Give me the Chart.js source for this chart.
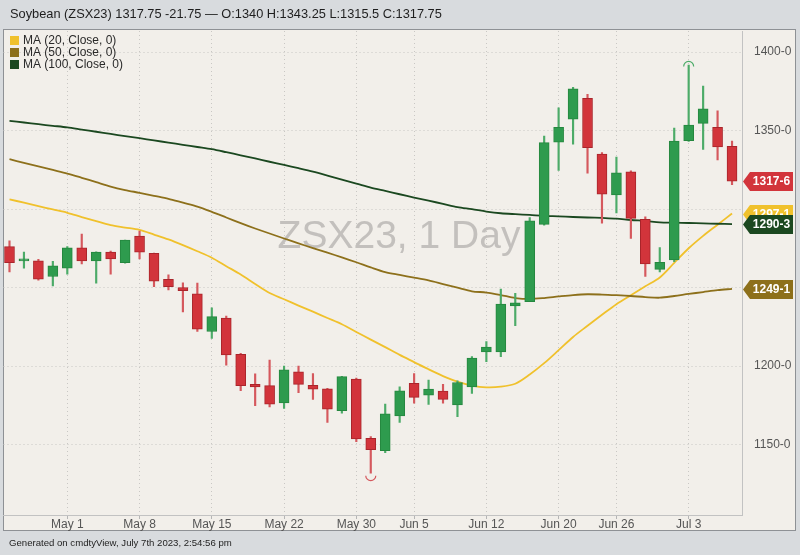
<!DOCTYPE html>
<html><head><meta charset="utf-8">
<script src="https://cdn.jsdelivr.net/npm/chart.js@4.4.0/dist/chart.umd.min.js"></script>
<style>
html,body{margin:0;padding:0;background:#d8dbde;}
canvas{display:block;}
</style></head><body>
<canvas id="c" width="800" height="555"></canvas>
<script>
const instrument = 'Soybean (ZSX23)';
const watermark = 'ZSX23, 1 Day';
const footerText = 'Generated on cmdtyView, July 7th 2023, 2:54:56 pm';
const dates = ['Apr 25','Apr 26','Apr 27','Apr 28','May 1','May 2','May 3','May 4','May 5','May 8','May 9','May 10','May 11','May 12','May 15','May 16','May 17','May 18','May 19','May 22','May 23','May 24','May 25','May 26','May 30','May 31','Jun 1','Jun 2','Jun 5','Jun 6','Jun 7','Jun 8','Jun 9','Jun 12','Jun 13','Jun 14','Jun 15','Jun 16','Jun 20','Jun 21','Jun 22','Jun 23','Jun 26','Jun 27','Jun 28','Jun 29','Jun 30','Jul 3','Jul 5','Jul 6','Jul 7'];
const tickLabels = ['May 1','May 8','May 15','May 22','May 30','Jun 5','Jun 12','Jun 20','Jun 26','Jul 3'];
const open  = [1276,1267,1267,1257,1262.25,1275.25,1267,1272.5,1265.75,1282.75,1271.75,1255.25,1250,1246,1222,1230.5,1207.5,1188.25,1187.5,1176.5,1196.25,1187.75,1185.5,1171.5,1191.75,1154,1146,1168.25,1189,1181.5,1184,1175.25,1186.75,1209,1209,1238.25,1241,1290.25,1342.5,1357.25,1370.5,1335,1309,1323.75,1293.5,1261.5,1267.5,1343.5,1354.5,1352,1340];
const high  = [1279.75,1272.5,1268,1266.75,1276,1284,1272.75,1273.25,1280.25,1286,1272,1258,1253,1252.75,1237,1231.75,1208,1195,1203.75,1200,1200,1195.25,1185.75,1193.5,1192.25,1155,1175.75,1186.75,1195.25,1191,1188.25,1190.5,1206,1215.5,1249,1246.25,1294.5,1346.5,1364.5,1377.5,1373,1336,1333,1324.25,1295,1275.5,1351.5,1391.75,1378.25,1362.5,1343.25];
const low   = [1260,1262.25,1254.75,1251,1258.5,1265,1252.75,1258.5,1265.5,1268.25,1250.5,1248.5,1234.5,1222,1217.5,1200.5,1184.25,1174.75,1174,1173,1183,1178.75,1164,1170,1151.75,1131.75,1144.75,1164,1176.25,1175.5,1176.25,1167.75,1182.5,1202.75,1206,1225.75,1241,1289.75,1324.5,1341.25,1322.75,1291,1297.5,1281.25,1257,1260,1266.5,1343,1338,1331.25,1315.5];
const close = [1265.75,1268.25,1255.25,1263.75,1275.25,1267,1272.5,1268.25,1280.25,1272.5,1254,1250.5,1248,1223.5,1231.5,1207,1187.5,1186.75,1175.75,1197.5,1188.25,1185.25,1172.5,1193.25,1153.5,1146.75,1169.5,1184.25,1180,1185.25,1178.75,1189.5,1205,1212,1239.5,1240.25,1292.5,1342.25,1352,1376.5,1339,1309.5,1323,1294,1265,1266,1343.25,1353.5,1363.75,1339.5,1317.75];
const ma20  = [1306.2,1304.0,1301.8,1299.7,1297.6,1294.9,1292.3,1289.7,1288.2,1286.7,1283.7,1280.6,1277.0,1273.1,1269.0,1263.6,1258.3,1252.3,1246.5,1242.5,1238.5,1234.6,1230.6,1226.6,1221.7,1216.8,1212.0,1207.1,1202.5,1197.9,1193.6,1190.0,1187.5,1186.4,1186.8,1188.7,1194.6,1201.8,1210.1,1218.5,1225.6,1232.6,1239.4,1245.1,1250.8,1256.4,1265.7,1275.0,1282.9,1290.0,1297.125];
const ma50  = [1331.7,1329.4,1327.2,1324.9,1322.6,1319.9,1317.1,1314.3,1312.1,1310.3,1308.4,1306.5,1304.0,1301.5,1298.2,1294.6,1291.0,1287.6,1284.4,1281.2,1278.1,1275.1,1272.2,1269.2,1266.1,1262.8,1259.8,1258.0,1256.3,1254.5,1252.2,1249.9,1247.6,1246.8,1245.2,1243.3,1242.7,1243.3,1244.3,1245.2,1245.7,1245.5,1245.1,1244.6,1243.9,1243.5,1244.6,1245.9,1247.1,1248.3,1249.125];
const ma100 = [1356.1,1355.1,1354.0,1353.0,1352.0,1350.6,1349.2,1347.8,1346.4,1345.1,1343.7,1342.3,1340.9,1339.5,1338.1,1336.2,1334.2,1332.2,1330.1,1328.1,1326.0,1323.8,1321.3,1318.7,1316.2,1313.6,1311.5,1309.4,1307.3,1305.3,1303.3,1301.2,1299.9,1298.4,1297.3,1296.7,1296.2,1295.6,1295.3,1294.9,1294.6,1294.3,1293.9,1293.0,1292.4,1291.5,1291.3,1291.1,1290.9,1290.6,1290.375];
const maNames = ['MA (20, Close, 0)','MA (50, Close, 0)','MA (100, Close, 0)'];

const C_UP = '#2e9b4e', C_UP_B = '#25873f', C_UP_W = '#4cab68';
const C_DN = '#d2343b', C_DN_B = '#a9252b', C_DN_W = '#d5585d';
const C_MA = ['#f0c12c', '#8d701b', '#1b4820'];

const last = close.length - 1;
const isUp = close.map((c, i) => c >= open[i]);
const tickIdx = tickLabels.map(l => dates.indexOf(l));
const tagValues = [close[last], ma20[last], ma50[last], ma100[last]];
const eighths = v => Math.floor(v) + '-' + Math.round((v - Math.floor(v)) * 8);
const fmt = v => String(v);

const FONT = '"Liberation Sans", Arial, sans-serif';

const bgPlugin = {
  id: 'bg',
  beforeDraw(chart) {
    const ctx = chart.ctx;
    ctx.save();
    ctx.fillStyle = '#d8dbde';
    ctx.fillRect(0, 0, 800, 555);
    ctx.fillStyle = '#f2efea';
    ctx.fillRect(3, 30, 793, 501);
    ctx.strokeStyle = '#8e9195';
    ctx.lineWidth = 1;
    ctx.strokeRect(3.5, 29.5, 792, 501);
    const chg = close[last] - close[last - 1];
    const head = instrument + ' ' + fmt(close[last]) + ' ' + (chg < 0 ? '' : '+') + fmt(chg) + ' \u2014 O:' + fmt(open[last]) + ' H:' + fmt(high[last]) + ' L:' + fmt(low[last]) + ' C:' + fmt(close[last]);
    ctx.fillStyle = '#1e1e1e';
    ctx.font = '12.8px ' + FONT;
    ctx.textBaseline = 'middle';
    ctx.textAlign = 'left';
    ctx.fillText(head, 10, 14.5);
    ctx.font = '9.6px ' + FONT;
    ctx.fillText(footerText, 9, 543);
    ctx.restore();
  },
  beforeDatasetsDraw(chart) {
    const ctx = chart.ctx;
    ctx.save();
    ctx.fillStyle = '#c3c0bd';
    ctx.font = '39px ' + FONT;
    ctx.textAlign = 'center';
    ctx.textBaseline = 'middle';
    ctx.fillText(watermark, 399, 237);
    ctx.restore();
  },
  afterDraw(chart) {
    const ctx = chart.ctx;
    const ys = chart.scales.y, xs = chart.scales.x;
    ctx.save();
    ctx.font = '12px ' + FONT;
    ctx.textBaseline = 'middle';
    ctx.textAlign = 'left';
    maNames.forEach((nm, k) => {
      const cy = 40.5 + k * 12;
      ctx.fillStyle = C_MA[k];
      ctx.fillRect(10, cy - 4.5, 9, 9);
      ctx.fillStyle = '#2a2a2a';
      ctx.fillText(nm, 23, cy + 0.5);
    });
    let hi = 0, lo = 0;
    high.forEach((v, i) => { if (v > high[hi]) hi = i; });
    low.forEach((v, i) => { if (v < low[lo]) lo = i; });
    ctx.lineWidth = 1.2;
    ctx.strokeStyle = C_DN_W;
    ctx.beginPath();
    ctx.arc(xs.getPixelForValue(lo), ys.getPixelForValue(low[lo]) + 2.5, 5, 0, Math.PI);
    ctx.stroke();
    ctx.strokeStyle = C_UP_W;
    ctx.beginPath();
    ctx.arc(xs.getPixelForValue(hi), ys.getPixelForValue(high[hi]) + 1.5, 5, Math.PI, 2 * Math.PI);
    ctx.stroke();
    const tag = (v, color) => {
      const y = Math.round(ys.getPixelForValue(v)) + 0.5;
      const x0 = chart.chartArea.right + 1, w = 50, h = 19, a = 7;
      ctx.beginPath();
      ctx.moveTo(x0, y);
      ctx.lineTo(x0 + a, y - h / 2);
      ctx.lineTo(x0 + w, y - h / 2);
      ctx.lineTo(x0 + w, y + h / 2);
      ctx.lineTo(x0 + a, y + h / 2);
      ctx.closePath();
      ctx.fillStyle = color;
      ctx.fill();
      ctx.fillStyle = '#ffffff';
      ctx.font = 'bold 12px ' + FONT;
      ctx.textAlign = 'center';
      ctx.textBaseline = 'middle';
      ctx.fillText(eighths(v), x0 + a + (w - a) / 2, y + 0.5);
    };
    tag(close[last], C_DN);
    tag(ma20[last], C_MA[0]);
    tag(ma100[last], C_MA[2]);
    tag(ma50[last], C_MA[1]);
    ctx.restore();
  }
};

const xy = arr => arr.map((v, i) => ({ x: i, y: v }));

new Chart(document.getElementById('c'), {
  type: 'bar',
  data: {
    datasets: [
      { type: 'bar', label: 'body', order: 1, grouped: false,
        data: open.map((o, i) => ({ x: i, y: [o, close[i]] })),
        backgroundColor: isUp.map(u => u ? C_UP : C_DN),
        borderColor: isUp.map(u => u ? C_UP_B : C_DN_B),
        borderWidth: 1, borderSkipped: false, barThickness: 10 },
      { type: 'bar', label: 'wick', order: 2, grouped: false,
        data: low.map((l, i) => ({ x: i, y: [l, high[i]] })),
        backgroundColor: isUp.map(u => u ? C_UP_W : C_DN_W),
        borderWidth: 0, barThickness: 1.5 },
      { type: 'line', label: maNames[2], order: 3, data: xy(ma100), borderColor: C_MA[2], borderWidth: 1.8, pointRadius: 0, tension: 0.3 },
      { type: 'line', label: maNames[1], order: 4, data: xy(ma50), borderColor: C_MA[1], borderWidth: 1.8, pointRadius: 0, tension: 0.3 },
      { type: 'line', label: maNames[0], order: 5, data: xy(ma20), borderColor: C_MA[0], borderWidth: 1.8, pointRadius: 0, tension: 0.3 }
    ]
  },
  options: {
    responsive: false,
    animation: false,
    layout: { padding: { left: 3.5, top: 31, right: 3, bottom: 24 } },
    plugins: { legend: { display: false }, tooltip: { enabled: false } },
    scales: {
      x: {
        type: 'linear', min: -0.415, max: 50.69, offset: false,
        afterBuildTicks: s => { s.ticks = tickIdx.map(v => ({ value: v })); },
        afterFit: s => { s.height = 16; },
        ticks: { autoSkip: false, maxRotation: 0, padding: -2, color: '#555',
          font: { family: FONT, size: 12 },
          callback: v => tickLabels[tickIdx.indexOf(v)] },
        grid: { offset: false, color: '#c9c7c4', lineWidth: 1, drawTicks: true, tickLength: 4, tickColor: '#b5b5b5', tickBorderDash: [] },
        border: { display: true, color: '#c2c2c2', width: 1, dash: [1, 3] }
      },
      y: {
        type: 'linear', position: 'right', min: 1105.1, max: 1413.38, beginAtZero: false,
        afterFit: s => { s.width = 55; },
        ticks: { stepSize: 50, includeBounds: false, padding: 12, color: '#555',
          font: { family: FONT, size: 12 },
          callback: v => tagValues.some(t => Math.abs(t - v) < 8) ? '' : eighths(v) },
        grid: { color: '#c9c7c4', lineWidth: 1, drawTicks: false },
        border: { display: true, color: '#c2c2c2', width: 1, dash: [1, 3] }
      }
    }
  },
  plugins: [bgPlugin]
});
</script>
</body></html>
